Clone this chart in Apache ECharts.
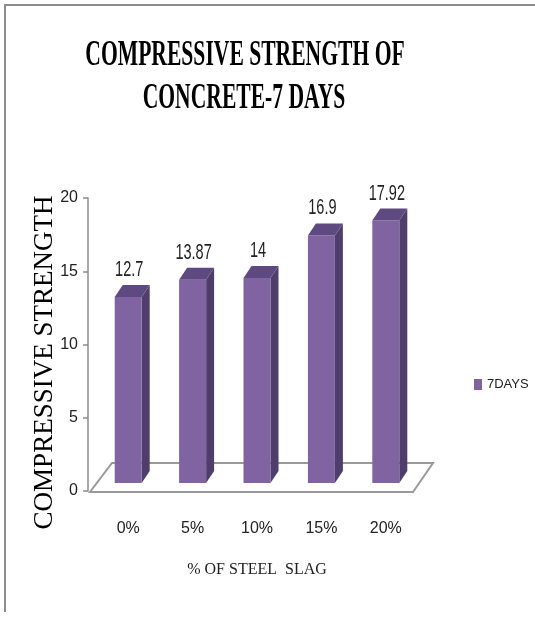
<!DOCTYPE html>
<html>
<head>
<meta charset="utf-8">
<script src="https://cdn.jsdelivr.net/npm/echarts@6/dist/echarts.min.js"></script>
<style>
html,body{margin:0;padding:0;background:#fff;}
#chart{width:535px;height:620px;}
</style>
</head>
<body>
<div id="chart"></div>
<script>
var categories = ['0%', '5%', '10%', '15%', '20%'];
var values7Days = [12.7, 13.87, 14, 16.9, 17.92];
var seriesName = '7DAYS';
var titleLines = ['COMPRESSIVE STRENGTH OF', 'CONCRETE-7 DAYS'];
var yAxisName = 'COMPRESSIVE STRENGTH';
var xAxisName = '% OF STEEL  SLAG';
var yTicks = [0, 5, 10, 15, 20];

var SANS = '"Liberation Sans Narrow", "Liberation Sans", sans-serif';
var SERIF = '"Liberation Serif", "DejaVu Serif", serif';

var FRONT = '#8064A2', SIDE = '#4F3E6B', TOP = '#5E4A80';
var DX = 8, DY = -12, LIFT = 8, HALF = 13.5;

var chart = echarts.init(document.getElementById('chart'), null, {renderer: 'canvas'});

var option = {
  animation: false,
  backgroundColor: '#ffffff',
  graphic: [
    {type: 'polyline', shape: {points: [[5, 612], [5, 5], [535, 5]]}, style: {stroke: '#8c8c8c', lineWidth: 2, fill: null}, silent: true},
    {type: 'text', x: 245, y: 56, scaleX: 0.6, style: {text: titleLines[0], font: 'bold 36px ' + SERIF, fill: '#000', align: 'center', verticalAlign: 'middle', textAlign: 'center', textVerticalAlign: 'middle'}},
    {type: 'text', x: 244, y: 99, scaleX: 0.6, style: {text: titleLines[1], font: 'bold 36px ' + SERIF, fill: '#000', align: 'center', verticalAlign: 'middle', textAlign: 'center', textVerticalAlign: 'middle'}}
  ],
  legend: {
    data: [{name: seriesName, icon: 'rect'}],
    left: 469, top: 373,
    itemWidth: 8, itemHeight: 11,
    textStyle: {fontFamily: SANS, fontSize: 13, color: '#222'}
  },
  grid: {left: 96, right: 117, top: 198, bottom: 129, containLabel: false},
  xAxis: {
    type: 'category',
    data: categories,
    axisLine: {show: false},
    axisTick: {show: false},
    axisLabel: {margin: 30, fontFamily: SANS, fontSize: 16, color: '#222'},
    name: xAxisName,
    nameLocation: 'middle',
    nameGap: 71,
    nameMoveOverlap: false,
    nameTextStyle: {fontFamily: SERIF, fontSize: 16, color: '#222'}
  },
  yAxis: {
    type: 'value',
    min: yTicks[0], max: yTicks[yTicks.length - 1], interval: 5,
    offset: 8,
    splitLine: {show: false},
    axisLine: {show: true, lineStyle: {color: '#8c8c8c', width: 1.5}},
    axisTick: {show: true, inside: false, length: 5, lineStyle: {color: '#8c8c8c', width: 1.5}},
    axisLabel: {margin: 10, fontFamily: SANS, fontSize: 16, color: '#222'},
    name: yAxisName,
    nameLocation: 'middle',
    nameRotate: 90,
    nameGap: 30,
    nameMoveOverlap: false,
    nameTextStyle: {fontFamily: SERIF, fontSize: 27, color: '#000', padding: [0, 36, 0, 0]}
  },
  series: [
    {
      type: 'custom',
      name: 'floor',
      z: 1,
      silent: true,
      clip: false,
      data: [[0, 0]],
      renderItem: function (params, api) {
        var c0 = api.coord([0, 0]);
        var bw = api.size([1, 0])[0];
        var left = c0[0] - bw / 2;
        var right = left + bw * categories.length;
        var y0 = c0[1];
        return {
          type: 'polygon',
          shape: {points: [[left - 6, y0 + 1], [right - 5, y0 + 1], [right + 15, y0 - 28], [left + 16, y0 - 28]]},
          style: {fill: '#ffffff', stroke: '#9a9a9a', lineWidth: 2}
        };
      }
    },
    {
      type: 'custom',
      name: seriesName,
      z: 2,
      clip: false,
      itemStyle: {color: FRONT},
      data: values7Days.map(function (v, i) { return [i, v]; }),
      renderItem: function (params, api) {
        var idx = api.value(0);
        var val = api.value(1);
        var topPt = api.coord([idx, val]);
        var basePt = api.coord([idx, 0]);
        var cx = topPt[0];
        var top = topPt[1] - LIFT;
        var bottom = basePt[1] - LIFT;
        var L = cx - HALF, R = cx + HALF;
        return {
          type: 'group',
          children: [
            {type: 'polygon', shape: {points: [[R, top], [R + DX, top + DY], [R + DX, bottom + DY], [R, bottom]]}, style: {fill: SIDE}},
            {type: 'rect', shape: {x: L, y: top, width: R - L, height: bottom - top}, style: {fill: FRONT}},
            {type: 'polygon', shape: {points: [[L, top], [R, top], [R + DX, top + DY], [L + DX, top + DY]]}, style: {fill: TOP}},
            {type: 'text', x: cx + 1, y: top + DY - 15, scaleX: 0.66, style: {text: String(val), font: '22px ' + SANS, fill: '#222', align: 'center', verticalAlign: 'middle'}}
          ]
        };
      }
    }
  ]
};
chart.setOption(option);
</script>
</body>
</html>
